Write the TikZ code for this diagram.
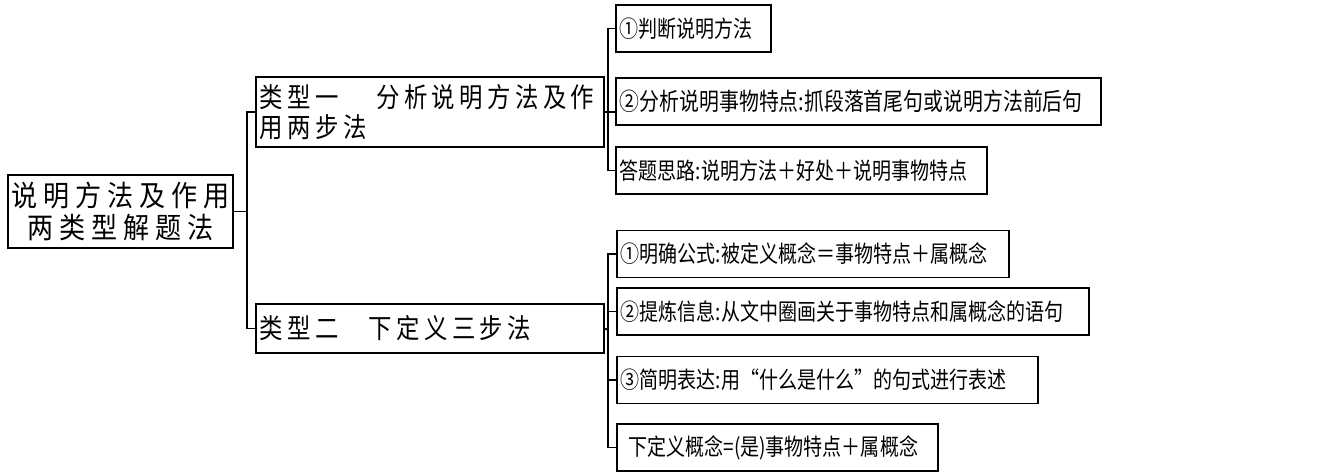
\documentclass[tikz,border=0pt]{standalone}
\usepackage{fontspec}
\setmainfont{Noto Sans CJK SC}
\newfontfamily\rootfont[LetterSpace=20, FakeStretch=0.9]{Noto Sans CJK SC}
\newfontfamily\typefont[LetterSpace=16, FakeStretch=0.86]{Noto Sans CJK SC}
\newfontfamily\leaffont[FakeStretch=0.82]{Noto Sans CJK SC}

\begin{document}
\begin{tikzpicture}[x=0.02cm, y=-0.02cm, line width=1pt,
    box/.style={draw, anchor=west, inner xsep=0.08cm, inner ysep=0pt, align=left},
    type node/.style={box, font=\typefont\fontsize{15.5pt}{17pt}\selectfont},
    leaf node/.style={box, minimum height=0.94cm, font=\leaffont\fontsize{13.2pt}{14pt}\selectfont},
    elbow/.style={to path={|- (\tikztotarget)}}]

            \useasboundingbox (0,0) rectangle (1326,476);

            \node[draw, align=center, minimum width=4.5cm, minimum height=1.46cm, inner sep=0pt,
                  font=\rootfont\fontsize{16.5pt}{18pt}\selectfont] (0) at (120.5,211.5) {说明方法及作用\\两类型解题法};

            \node[type node, text width=6.8cm, minimum height=1.4cm] (1) at (255,112) {类型一\hspace{0.75cm}分析说明方法及作\\用两步法};
            \node[type node, text width=6.8cm, minimum height=0.98cm] (2) at (255,328.5) {类型二\hspace{0.6cm}下定义三步法};

            \node[leaf node, text width=2.94cm] (3) at (615,28.5) {①判断说明方法};
            \node[leaf node, text width=9.54cm, font=\leaffont\fontsize{13.8pt}{14pt}\selectfont] (4) at (615,101.5) {②分析说明事物特点:抓段落首尾句或说明方法前后句};
            \node[leaf node, text width=7.26cm] (5) at (615,170.5) {答题思路:说明方法＋好处＋说明事物特点};

            \node[leaf node, text width=7.68cm] (6) at (616,254) {①明确公式:被定义概念＝事物特点＋属概念};
            \node[leaf node, text width=9.28cm] (7) at (616,311.5) {②提炼信息:从文中圈画关于事物特点和属概念的语句};
            \node[leaf node, text width=8.26cm] (8) at (616,380) {③简明表达:用“什么是什么”的句式进行表述};
            \node[leaf node, text width=6.26cm] (9) at (616,447.5) {\hspace{0.15cm}下定义概念=(是)事物特点＋属概念};

            \coordinate (j0) at (247,211.5);
            \coordinate (j1) at (608,112);
            \coordinate (j2) at (608,330);

            \path
                (0.east) edge (j0)
                (j0) edge[elbow] (1.west)
                (j0) edge[elbow] (2.west)

                (1.east) edge (4.west |- 1.east)
                (j1) edge[elbow] (3.west)
                (j1) edge[elbow] (5.west)

                (2.east) edge (j2)
                (j2) edge[elbow] (6.west)
                (j2) edge[elbow] (7.west)
                (j2) edge[elbow] (8.west)
                (j2) edge[elbow] (9.west)
                ;
        \end{tikzpicture}
\end{document}
